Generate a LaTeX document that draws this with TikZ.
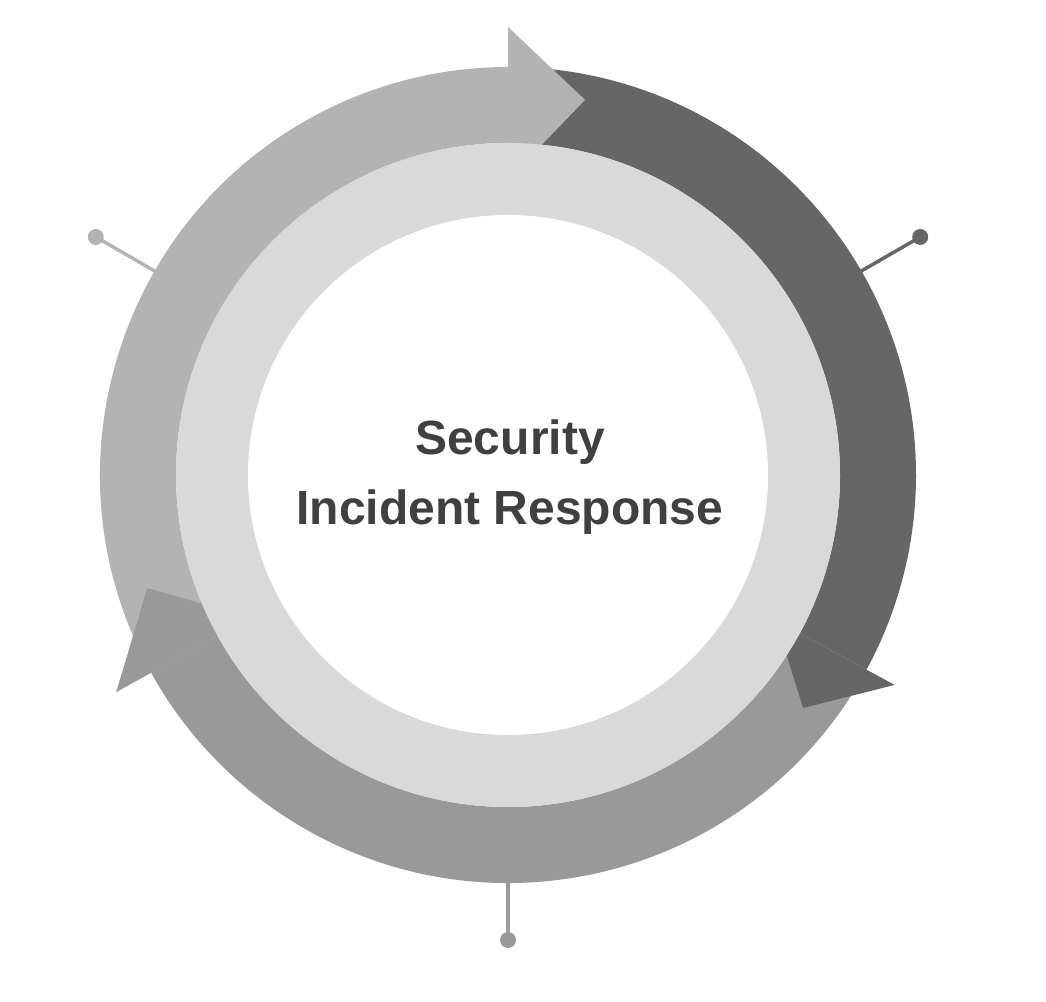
\documentclass[tikz,border=0pt]{standalone}
\usepackage{fontspec}
\setmainfont{Liberation Sans}
\definecolor{cLight}{HTML}{B3B3B3}
\definecolor{cDark}{HTML}{666666}
\definecolor{cMed}{HTML}{999999}
\definecolor{cRing}{HTML}{D9D9D9}
\definecolor{cText}{HTML}{404040}
\tikzset{pin/.style={line width=2.6pt}, dot/.style={circle,inner sep=0pt,minimum size=12pt}}
\begin{document}
\begin{tikzpicture}[x=0.75pt,y=0.75pt]
\useasboundingbox (0,0) rectangle (1046,1002);
\begin{scope}[shift={(508,527)}]
% pins
\draw[pin,cLight] (150:400) -- (150:476) node[dot,fill=cLight] (pl) {};
\draw[pin,cDark] (30:400) -- (30:476) node[dot,fill=cDark] (pr) {};
\draw[pin,cMed] (270:400) -- (270:465) node[dot,fill=cMed] (pb) {};
% ring bodies
\fill[cLight] (209:408) arc[start angle=209,end angle=90,radius=408] -- (90:332) arc[start angle=90,end angle=209,radius=332] -- cycle;
\fill[cDark] (90:408) arc[start angle=90,end angle=-28.5,radius=408] -- (-28.5:332) arc[start angle=-28.5,end angle=90,radius=332] -- cycle;
\fill[cMed] (-28.5:408) arc[start angle=-28.5,end angle=-151,radius=408] -- (-151:332) arc[start angle=-151,end angle=-28.5,radius=332] -- cycle;
% arrowheads
\fill[cLight] (90:295) -- (90:448) -- (78.4:383) -- cycle;
\fill[cDark] (-28.5:305) -- (-28.5:440) -- (-38.3:376) -- cycle;
\fill[cMed] (209:294) -- (209:448) -- (197.4:378) -- cycle;
% inner rings
\fill[cRing] (0,0) circle[radius=332];
\fill[white] (0,0) circle[radius=260];
\node[text=cText,font=\bfseries\fontsize{36}{52}\selectfont,align=center] (t) at (2,-2) {Security\\Incident Response};
\end{scope}
\end{tikzpicture}
\end{document}
